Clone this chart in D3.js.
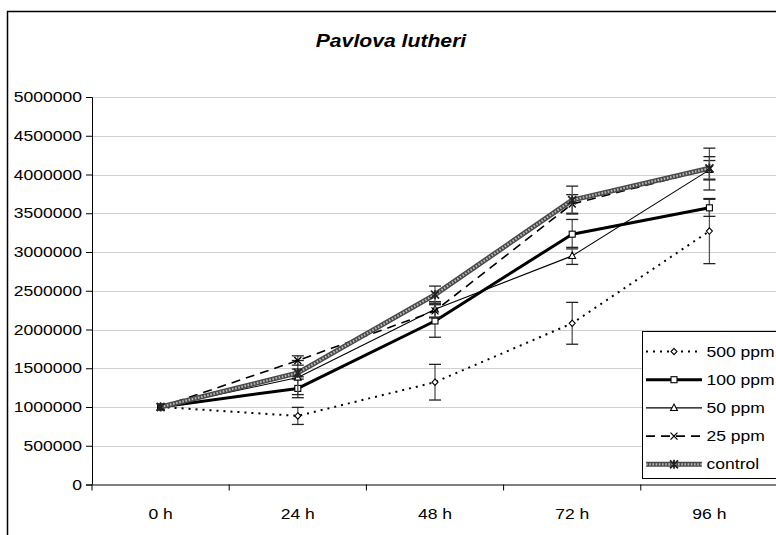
<!DOCTYPE html>
<html>
<head>
<meta charset="utf-8">
<script src="https://cdn.jsdelivr.net/npm/d3@7"></script>
<style>
  html, body { margin: 0; padding: 0; background: #fff; }
  svg { display: block; font-family: Arial, "Liberation Sans", sans-serif; }
</style>
</head>
<body>
<svg id="chart" width="776" height="535"></svg>
<script>
// Cell density of Pavlova lutheri under different treatments
const times = ["0 h", "24 h", "48 h", "72 h", "96 h"];
const yTicks = [0, 500000, 1000000, 1500000, 2000000, 2500000, 3000000, 3500000, 4000000, 4500000, 5000000];

const p500 = [1000000, 885000, 1320000, 2080000, 3270000];
const p500Err = [0, 110000, 230000, 270000, 420000];
const p100 = [1000000, 1240000, 2110000, 3230000, 3570000];
const p100Err = [0, 120000, 210000, 190000, 110000];
const p50 = [1000000, 1380000, 2260000, 2950000, 4060000];
const p50Err = [0, 220000, 100000, 110000, 120000];
const p25 = [1000000, 1600000, 2240000, 3620000, 4070000];
const p25Err = [0, 60000, 90000, 120000, 270000];
const control = [1000000, 1440000, 2450000, 3670000, 4080000];
const controlErr = [0, 50000, 110000, 180000, 150000];

const seriesNames = ["500 ppm", "100 ppm", "50 ppm", "25 ppm", "control"];

const SX = 1.21; // horizontal text stretch

const svg = d3.select("#chart");

const plot = { left: 92, right: 778, top: 97, bottom: 484.5 };

const x = d3.scaleBand().domain(times).range([plot.left, plot.right]);
const cx = d => x(d) + x.bandwidth() / 2;
const y = d3.scaleLinear().domain([0, 5000000]).range([plot.bottom, plot.top]);

function stretchedText(g, tx, ty, str, anchor, size, extra) {
  const t = g.append("g").attr("transform", `translate(${tx},${ty}) scale(${SX},1)`)
    .append("text")
    .attr("text-anchor", anchor)
    .attr("font-size", size)
    .attr("fill", "#000")
    .text(str);
  if (extra) extra(t);
  return t;
}

// outer frame
svg.append("rect").attr("x", 7.5).attr("y", 11.5).attr("width", 820).attr("height", 600)
  .attr("fill", "none").attr("stroke", "#000").attr("stroke-width", 1.5);

// title
stretchedText(svg, 391, 47, "Pavlova lutheri", "middle", 17.5, t => t.attr("font-weight", "bold").attr("font-style", "italic"));

// gridlines
svg.append("g").selectAll("line").data(yTicks.filter(v => v > 0)).join("line")
  .attr("x1", plot.left).attr("x2", plot.right)
  .attr("y1", d => Math.round(y(d)) + 0.5).attr("y2", d => Math.round(y(d)) + 0.5)
  .attr("stroke", "#cfcfcf").attr("stroke-width", 1.2);

// y axis
const yAxis = d3.axisLeft(y).tickValues(yTicks).tickSize(6).tickFormat("");
const yG = svg.append("g").attr("transform", `translate(${plot.left},0)`).call(yAxis);
yG.select(".domain").attr("stroke", "#000");
yG.selectAll(".tick line").attr("stroke", "#000");
yTicks.forEach(v => stretchedText(svg, 82, y(v) + 5, String(v), "end", 14.5));

// x axis
const xAxis = d3.axisBottom(x).tickSize(0).tickFormat("");
const xG = svg.append("g").attr("transform", `translate(0,${plot.bottom})`).call(xAxis);
xG.select(".domain").attr("stroke", "#555").attr("stroke-width", 1.6);
const bounds = times.map(t => x(t)).concat([plot.right]);
svg.append("g").selectAll("line").data(bounds).join("line")
  .attr("x1", d => d).attr("x2", d => d)
  .attr("y1", plot.bottom).attr("y2", plot.bottom + 6)
  .attr("stroke", "#000");
times.forEach(t => stretchedText(svg, cx(t), 519, t, "middle", 14.5));

// series definitions
const series = [
  { name: seriesNames[0], values: p500, err: p500Err, marker: "diamond",
    line: [{ stroke: "#000", width: 2, dash: "2,5" }] },
  { name: seriesNames[1], values: p100, err: p100Err, marker: "square",
    line: [{ stroke: "#000", width: 3 }] },
  { name: seriesNames[2], values: p50, err: p50Err, marker: "triangle",
    line: [{ stroke: "#000", width: 1.1 }] },
  { name: seriesNames[3], values: p25, err: p25Err, marker: "cross",
    line: [{ stroke: "#000", width: 1.6, dash: "9,6" }] },
  { name: seriesNames[4], values: control, err: controlErr, marker: "star",
    line: [{ stroke: "#4a4a4a", width: 5 }, { stroke: "#b8b8b8", width: 2.2, dash: "1.6,1.6" }] }
];

function drawMarker(g, type, px, py) {
  if (type === "diamond") {
    g.append("path").attr("d", `M${px},${py - 3.2}L${px + 3},${py}L${px},${py + 3.2}L${px - 3},${py}Z`)
      .attr("fill", "#fff").attr("stroke", "#000").attr("stroke-width", 1.1);
  } else if (type === "square") {
    g.append("rect").attr("x", px - 3).attr("y", py - 3).attr("width", 6).attr("height", 6)
      .attr("fill", "#fff").attr("stroke", "#000").attr("stroke-width", 1.1);
  } else if (type === "triangle") {
    g.append("path").attr("d", `M${px},${py - 3.8}L${px + 3.4},${py + 2.6}L${px - 3.4},${py + 2.6}Z`)
      .attr("fill", "#fff").attr("stroke", "#000").attr("stroke-width", 1.1);
  } else if (type === "cross") {
    g.append("path").attr("d", `M${px - 3.5},${py - 3.5}L${px + 3.5},${py + 3.5}M${px - 3.5},${py + 3.5}L${px + 3.5},${py - 3.5}`)
      .attr("stroke", "#000").attr("stroke-width", 1.3);
  } else if (type === "star") {
    g.append("path").attr("d", `M${px - 4},${py - 4}L${px + 4},${py + 4}M${px - 4},${py + 4}L${px + 4},${py - 4}M${px},${py - 4.5}L${px},${py + 4.5}`)
      .attr("stroke", "#222").attr("stroke-width", 1.8);
  }
}

const lineGen = d3.line().x((d, i) => cx(times[i])).y(d => y(d));
const dataG = svg.append("g");

series.forEach(s => {
  const g = dataG.append("g");
  // error bars
  s.values.forEach((v, i) => {
    if (!s.err[i]) return;
    const px = cx(times[i]);
    const hi = y(v + s.err[i]), lo = y(v - s.err[i]);
    g.append("line").attr("x1", px).attr("x2", px).attr("y1", hi).attr("y2", lo)
      .attr("stroke", "#555").attr("stroke-width", 1.3);
    [hi, lo].forEach(cy => g.append("line").attr("x1", px - 6).attr("x2", px + 6)
      .attr("y1", cy).attr("y2", cy).attr("stroke", "#222").attr("stroke-width", 1.3));
  });
  s.line.forEach(st => {
    g.append("path").datum(s.values).attr("d", lineGen)
      .attr("fill", "none").attr("stroke", st.stroke).attr("stroke-width", st.width)
      .attr("stroke-dasharray", st.dash || null).attr("stroke-linejoin", "round");
  });
  s.values.forEach((v, i) => drawMarker(g, s.marker, cx(times[i]), y(v)));
});

// legend
const leg = svg.append("g");
leg.append("rect").attr("x", 642.5).attr("y", 331.5).attr("width", 200).attr("height", 147)
  .attr("fill", "#fff").attr("stroke", "#000").attr("stroke-width", 1);
series.forEach((s, i) => {
  const ly = 351.5 + i * 28.2;
  s.line.forEach(st => {
    leg.append("line").attr("x1", 646).attr("x2", 702).attr("y1", ly).attr("y2", ly)
      .attr("stroke", st.stroke).attr("stroke-width", st.width)
      .attr("stroke-dasharray", st.dash || null);
  });
  drawMarker(leg, s.marker, 674, ly);
  stretchedText(leg, 706.5, ly + 5, s.name, "start", 14.5);
});
</script>
</body>
</html>
